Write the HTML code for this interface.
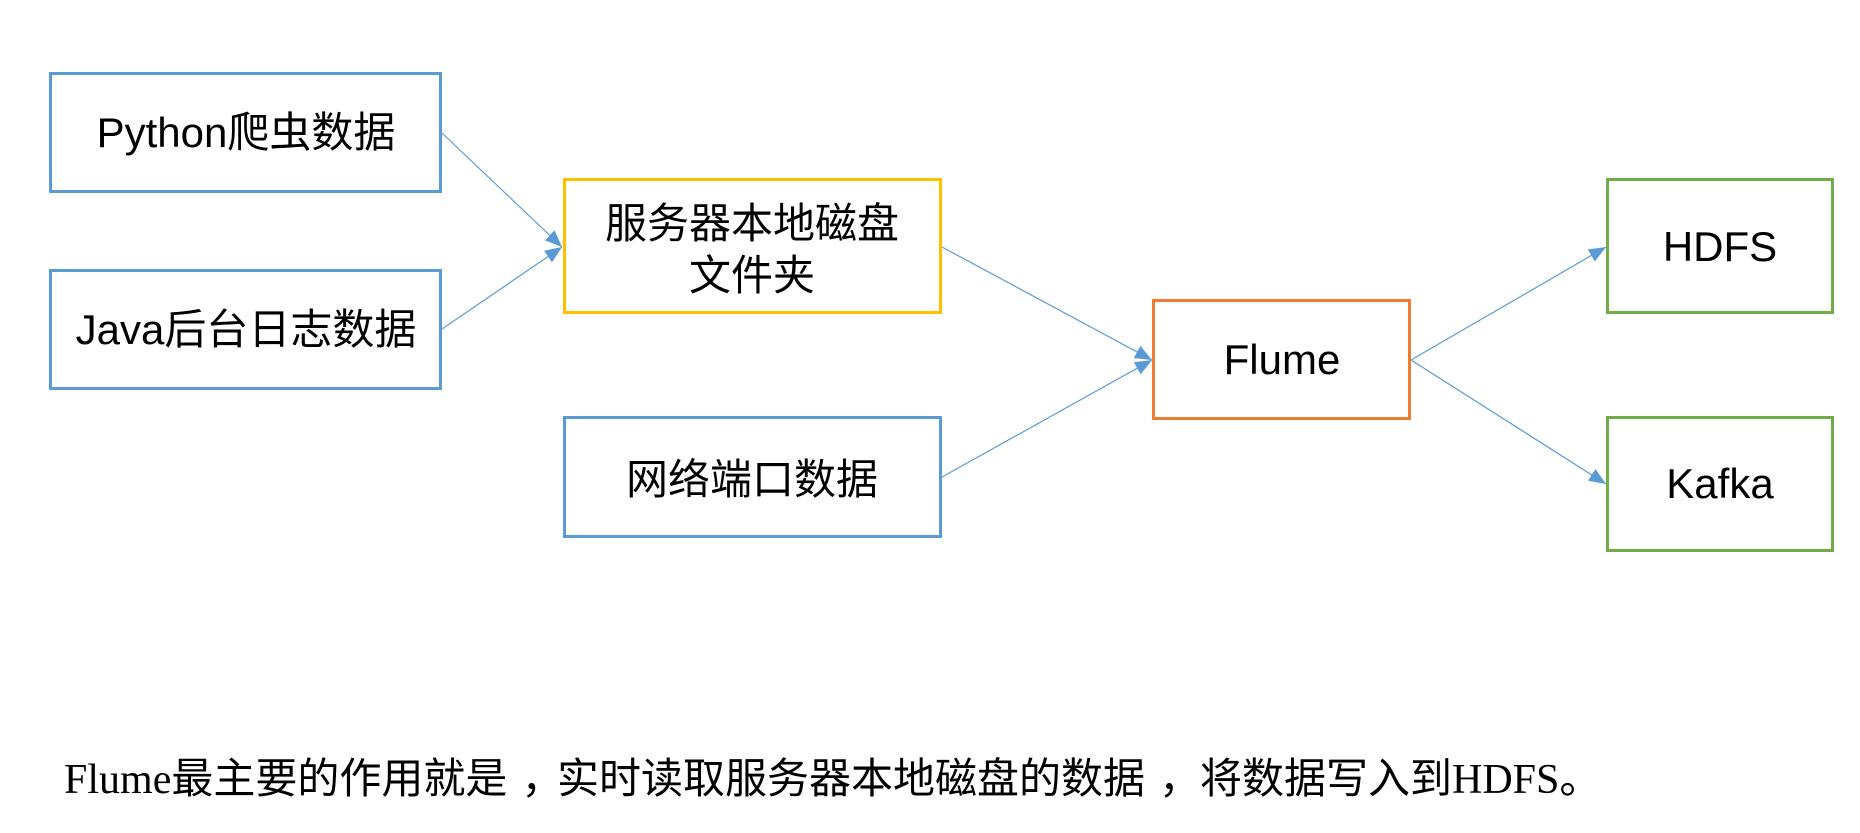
<!DOCTYPE html>
<html>
<head>
<meta charset="utf-8">
<style>
html,body{margin:0;padding:0;background:#fff;}
body{width:1860px;height:833px;overflow:hidden;}
svg{display:block;}
.lbl{font-family:"Liberation Sans","Noto Sans CJK SC",sans-serif;font-size:42px;fill:#000;}
.cap{font-family:"Liberation Serif","Noto Sans CJK SC",sans-serif;font-size:42px;fill:#000;}
</style>
</head>
<body>
<svg width="1860" height="833" viewBox="0 0 1860 833" xmlns="http://www.w3.org/2000/svg">
  <defs>
    <marker id="ah" markerWidth="18" markerHeight="14" refX="17" refY="7" orient="auto" markerUnits="userSpaceOnUse">
      <path d="M0,0 L17,7 L0,14 Z" fill="#5b9bd5"/>
    </marker>
  </defs>
  <rect width="1860" height="833" fill="#fff"/>

  <!-- connectors -->
  <g stroke="#5b9bd5" stroke-width="1.2" fill="none">
    <line x1="442" y1="133" x2="562" y2="247" marker-end="url(#ah)"/>
    <line x1="442" y1="329" x2="562" y2="247" marker-end="url(#ah)"/>
    <line x1="942" y1="247" x2="1152" y2="360" marker-end="url(#ah)"/>
    <line x1="942" y1="477" x2="1152" y2="360" marker-end="url(#ah)"/>
    <line x1="1411" y1="360" x2="1606" y2="247" marker-end="url(#ah)"/>
    <line x1="1411" y1="360" x2="1606" y2="484" marker-end="url(#ah)"/>
  </g>

  <!-- boxes -->
  <g fill="#fff" stroke-width="3">
    <rect x="50.5" y="73.5" width="390" height="118" stroke="#5b9bd5"/>
    <rect x="50.5" y="270.5" width="390" height="118" stroke="#5b9bd5"/>
    <rect x="564.5" y="179.5" width="376" height="133" stroke="#ffc000"/>
    <rect x="564.5" y="417.5" width="376" height="119" stroke="#5b9bd5"/>
    <rect x="1153.5" y="300.5" width="256" height="118" stroke="#ed7d31"/>
    <rect x="1607.5" y="179.5" width="225" height="133" stroke="#70ad47"/>
    <rect x="1607.5" y="417.5" width="225" height="133" stroke="#70ad47"/>
  </g>

  <!-- labels -->
  <g class="lbl" text-anchor="middle">
    <text x="246" y="147">Python爬虫数据</text>
    <text x="246" y="344">Java后台日志数据</text>
    <text x="752" y="238">服务器本地磁盘</text>
    <text x="752" y="290">文件夹</text>
    <text x="752" y="494">网络端口数据</text>
    <text x="1282" y="374">Flume</text>
    <text x="1720" y="261">HDFS</text>
    <text x="1720" y="498">Kafka</text>
  </g>

  <!-- caption -->
  <g class="cap">
    <text x="64" y="793">Flume最主要的作用就是<tspan dx="14">，</tspan></text>
    <text x="557" y="793">实时读取服务器本地磁盘的数据<tspan dx="14">，</tspan></text>
    <text x="1200" y="793">将数据写入到HDFS。</text>
  </g>
</svg>
</body>
</html>
